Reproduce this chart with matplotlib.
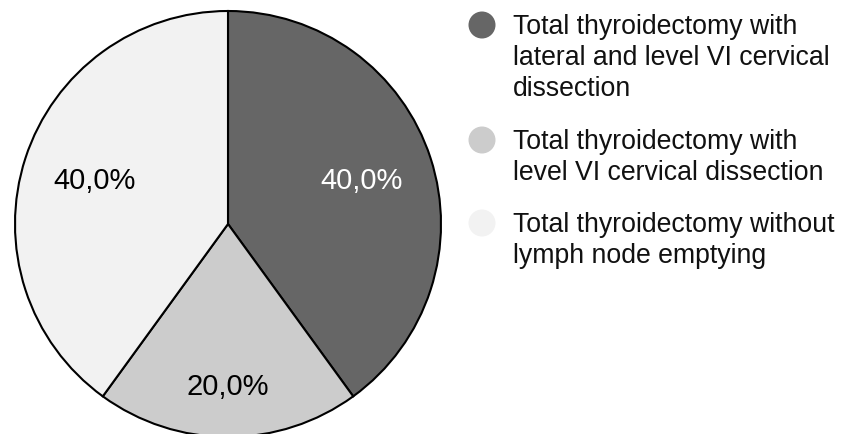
import numpy as np
import matplotlib
matplotlib.use('Agg')
import matplotlib.pyplot as plt
from matplotlib.patches import Circle

plt.rcParams['font.family'] = ['Liberation Sans', 'DejaVu Sans']

# data
categories = ['Total thyroidectomy with\nlateral and level VI cervical\ndissection',
              'Total thyroidectomy with\nlevel VI cervical dissection',
              'Total thyroidectomy without\nlymph node emptying']
shares = [40.0, 20.0, 40.0]
colors = ['#666666', '#cccccc', '#f2f2f2']
label_colors = ['white', 'black', 'black']
label_dist = [0.66, 0.765, 0.66]

W, H = 850, 434
fig = plt.figure(figsize=(W / 100, H / 100), dpi=100)

# pie axes: centre (228, 224) px from top, radius 213 px
cx, cy, r = 228, 224, 213
ax = fig.add_axes([(cx - r) / W, (H - cy - r) / H, 2 * r / W, 2 * r / H])
wedges, _ = ax.pie(shares, colors=colors, startangle=90, counterclock=False,
                   wedgeprops=dict(edgecolor='black', linewidth=1.5))
for w in wedges:
    w.set_clip_on(False)
ax.set_xlim(-1, 1)
ax.set_ylim(-1, 1)
ax.set_aspect('equal')
ax.axis('off')

for w, s, d, c in zip(wedges, shares, label_dist, label_colors):
    ang = np.deg2rad((w.theta1 + w.theta2) / 2)
    ax.text(d * np.cos(ang), d * np.sin(ang), f'{s:.1f}'.replace('.', ',') + '%',
            ha='center', va='center', fontsize=21, color=c)

# legend drawn by hand (positions in pixels -> inches)
legend_y = [25, 140, 223]
for lab, col, y in zip(categories, colors, legend_y):
    fig.patches.append(Circle((482 / 100, (H - y) / 100), 0.135,
                              transform=fig.dpi_scale_trans,
                              facecolor=col, edgecolor='none'))
    fig.text(513 / W, 1 - (y - 11) / H, lab, ha='left', va='top',
             fontsize=19.2, color='#111111', linespacing=1.25)

fig.savefig('out.png', dpi=100)
